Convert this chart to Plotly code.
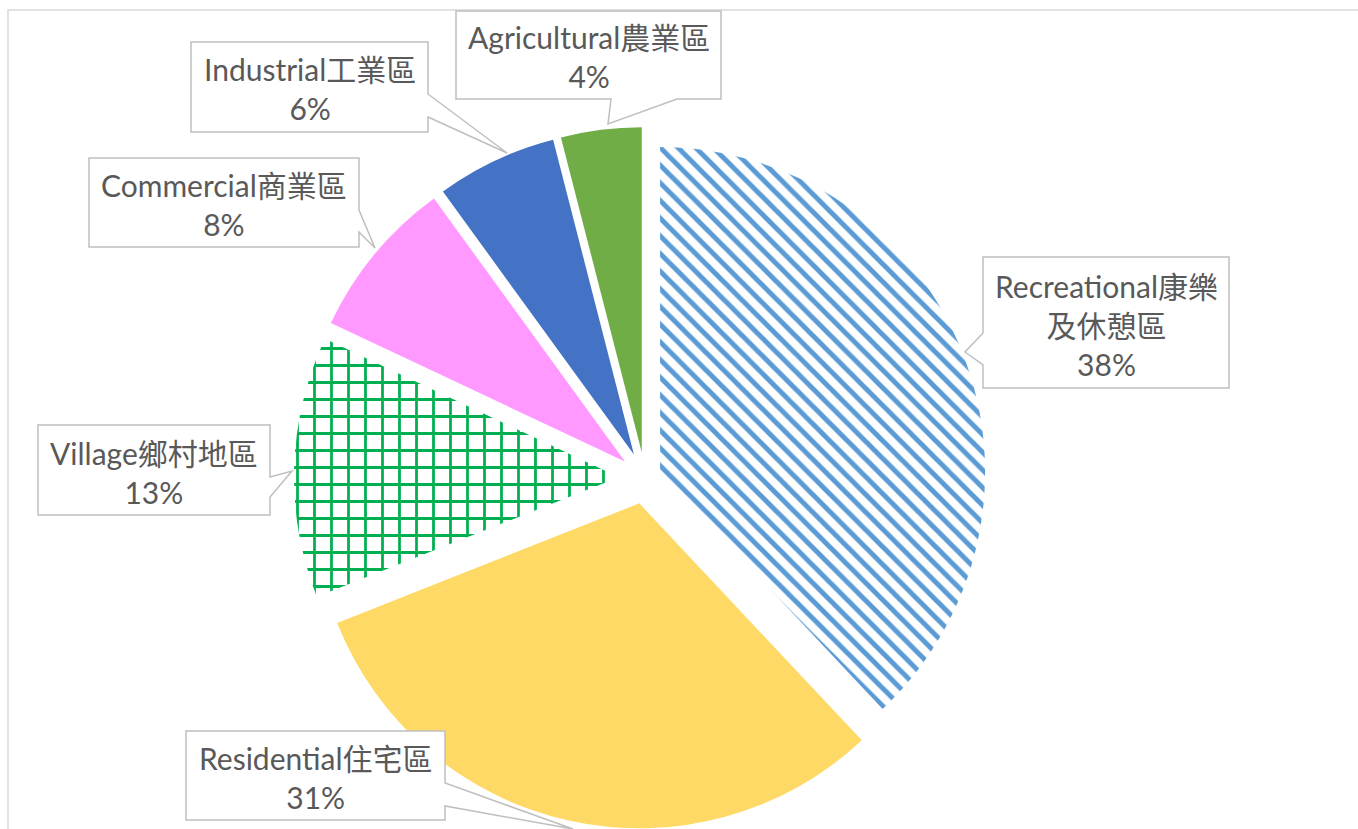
import plotly.graph_objects as go

# ---------------- data ----------------
categories = ["Recreational康樂及休憩區", "Residential住宅區", "Village鄉村地區",
              "Commercial商業區", "Industrial工業區", "Agricultural農業區"]
label_lines = [["Recreational康樂", "及休憩區"], ["Residential住宅區"], ["Village鄉村地區"],
               ["Commercial商業區"], ["Industrial工業區"], ["Agricultural農業區"]]
percent_values = [38, 31, 13, 8, 6, 4]

# ---------------- styles ----------------
slice_colors = ["#5B9BD5", "#FFD966", "#00B050", "#FF99FF", "#4472C4", "#70AD47"]
pattern_shapes = ["\\", "", "+", "", "", ""]
pattern_sizes = [12.5, 10, 17, 10, 10, 10]
pattern_solid = [0.4, 0.3, 0.3, 0.3, 0.3, 0.3]
pulls = [0.05, 0.08, 0.08, 0.08, 0.08, 0.08]

W, H = 1358, 829
MT, MB = 127, 0
PH = H - MT - MB
FONT = "Lato, 'Noto Sans CJK TC', sans-serif"
TEXT_COLOR = "#595959"

# callout boxes in pixels: (left, top, right, bottom, side, base1, base2, tipx, tipy)
callouts = [
    (983, 257, 1229, 388, "left", 333, 365, 965, 352),
    (186, 731, 445, 820, "right", 783, 806, 573, 829),
    (38, 425, 270, 515, "right", 477, 497, 292, 471),
    (89, 158, 359, 247, "right", 210, 232, 375, 248),
    (191, 42, 428, 132, "right", 94, 117, 507, 153),
    (456, 11, 721, 99, "bottom", 611, 677, 608, 124),
]


def px(x):
    return x / W


def py(y):
    return (H - MB - y) / PH


def pt(x, y):
    return f"{px(x):.5f},{py(y):.5f}"


fig = go.Figure()
fig.add_trace(go.Pie(
    labels=categories,
    values=percent_values,
    sort=False,
    direction="clockwise",
    rotation=0,
    pull=pulls,
    textinfo="none",
    hoverinfo="label+percent",
    showlegend=False,
    domain=dict(x=[0, 1290 / W], y=[0, 1]),
    marker=dict(
        colors=slice_colors,
        line=dict(width=0),
        pattern=dict(shape=pattern_shapes, size=pattern_sizes,
                     solidity=pattern_solid, fillmode="replace"),
    ),
))

shapes = []
# outer chart border
shapes.append(dict(type="rect", xref="paper", yref="paper",
                   x0=px(8), y0=py(845), x1=px(1375), y1=py(10),
                   line=dict(color="#D9D9D9", width=1.5), fillcolor="rgba(0,0,0,0)",
                   layer="below"))

annotations = []
for (l, t, r, b, side, b1, b2, tx, ty), lines, p in zip(callouts, label_lines, percent_values):
    if side == "right":
        path = ("M" + pt(l, t) + " L" + pt(r, t) + " L" + pt(r, b1) + " L" + pt(tx, ty) +
                " L" + pt(r, b2) + " L" + pt(r, b) + " L" + pt(l, b) + " Z")
    elif side == "left":
        path = ("M" + pt(l, t) + " L" + pt(r, t) + " L" + pt(r, b) + " L" + pt(l, b) +
                " L" + pt(l, b2) + " L" + pt(tx, ty) + " L" + pt(l, b1) + " Z")
    else:
        path = ("M" + pt(l, t) + " L" + pt(r, t) + " L" + pt(r, b) + " L" + pt(b2, b) +
                " L" + pt(tx, ty) + " L" + pt(b1, b) + " L" + pt(l, b) + " Z")
    shapes.append(dict(type="path", xref="paper", yref="paper", path=path,
                       fillcolor="white", line=dict(color="#BFBFBF", width=1.5),
                       layer="above"))
    annotations.append(dict(
        xref="paper", yref="paper",
        x=px((l + r) / 2), y=py((t + b) / 2 + 2),
        xanchor="center", yanchor="middle",
        text="<br>".join(lines + [f"{p}%"]),
        showarrow=False,
        font=dict(family=FONT, size=30, color=TEXT_COLOR),
        align="center",
    ))

fig.update_layout(
    width=W, height=H, autosize=False,
    margin=dict(l=0, r=0, t=MT, b=MB),
    paper_bgcolor="white", plot_bgcolor="white",
    shapes=shapes, annotations=annotations,
    showlegend=False,
)

fig.write_html("out.html")
